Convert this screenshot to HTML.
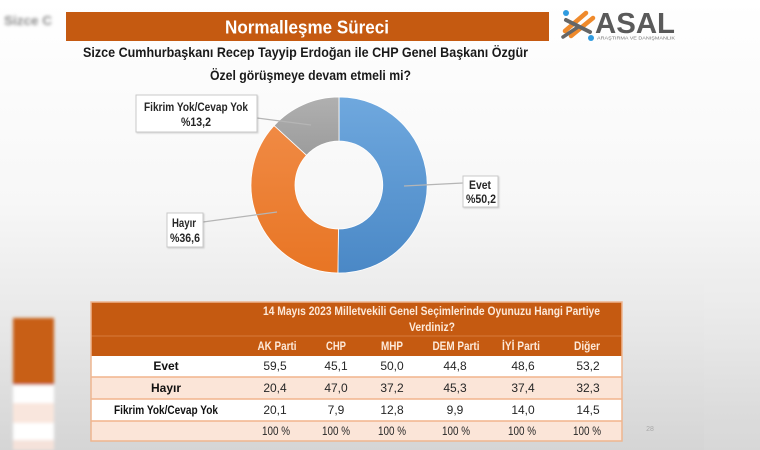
<!DOCTYPE html>
<html><head><meta charset="utf-8">
<style>
html,body{margin:0;padding:0;width:760px;height:450px;overflow:hidden;background:#fff;}
svg{display:block;font-family:"Liberation Sans",Arial,sans-serif;}
</style></head>
<body>
<svg width="760" height="450" viewBox="0 0 760 450" xmlns="http://www.w3.org/2000/svg">
<defs>
  <linearGradient id="bg" x1="0" y1="0" x2="0" y2="1">
    <stop offset="0" stop-color="#ffffff"/>
    <stop offset="0.45" stop-color="#f7f7f7"/>
    <stop offset="0.75" stop-color="#e6e6e6"/>
    <stop offset="1" stop-color="#d5d5d5"/>
  </linearGradient>
  <linearGradient id="blue" x1="0" y1="0" x2="0" y2="1">
    <stop offset="0" stop-color="#6fa8de"/>
    <stop offset="1" stop-color="#4a88c6"/>
  </linearGradient>
  <linearGradient id="orange" x1="0" y1="0" x2="0" y2="1">
    <stop offset="0" stop-color="#f08a44"/>
    <stop offset="1" stop-color="#e87524"/>
  </linearGradient>
  <linearGradient id="gray" x1="0" y1="0" x2="0" y2="1">
    <stop offset="0" stop-color="#b0b0b0"/>
    <stop offset="1" stop-color="#9c9c9c"/>
  </linearGradient>
  <filter id="blur" x="-20%" y="-20%" width="140%" height="140%"><feGaussianBlur stdDeviation="1.6"/></filter>
  <filter id="shadow" x="-10%" y="-10%" width="130%" height="140%"><feDropShadow dx="1" dy="1" stdDeviation="0.8" flood-color="#000" flood-opacity="0.15"/></filter>
</defs>

<!-- background -->
<rect x="0" y="0" width="760" height="450" fill="url(#bg)"/>
<rect x="704" y="0" width="56" height="450" fill="#ffffff" opacity="0.05"/>

<!-- blurred left remnants -->
<g filter="url(#blur)">
  <text x="4" y="25" font-size="13" font-weight="bold" fill="#8a8a8a" textLength="48" lengthAdjust="spacingAndGlyphs">Sizce C</text>
  <rect x="13" y="318" width="41" height="67" fill="#c85e14"/>
  <rect x="13" y="385" width="41" height="18" fill="#ffffff"/>
  <rect x="13" y="403" width="41" height="20" fill="#f9e6dd"/>
  <rect x="13" y="423" width="41" height="17" fill="#ffffff"/>
  <rect x="13" y="440" width="41" height="10" fill="#f5e2da"/>
</g>

<!-- title bar -->
<rect x="66" y="12" width="483" height="29" fill="#c55a11"/>
<text x="307" y="33.5" font-size="18" font-weight="bold" fill="#ffffff" text-anchor="middle" textLength="164" lengthAdjust="spacingAndGlyphs">Normalleşme Süreci</text>

<!-- logo -->
<g>
  <line x1="565" y1="31" x2="586" y2="13" stroke="#ef8a2c" stroke-width="4.5" stroke-linecap="round"/>
  <line x1="571" y1="36" x2="593" y2="18" stroke="#ef8a2c" stroke-width="4.5" stroke-linecap="round"/>
  <line x1="566" y1="20" x2="590" y2="32" stroke="#666" stroke-width="4" stroke-linecap="round"/>
  <line x1="563" y1="37" x2="578" y2="27" stroke="#666" stroke-width="3.5" stroke-linecap="round"/>
  <circle cx="566" cy="13" r="3" fill="#2f9be0"/>
  <circle cx="591" cy="38" r="3" fill="#2f9be0"/>
  <text x="595" y="33" font-size="29" font-weight="bold" fill="#5a5a5a" textLength="80" lengthAdjust="spacingAndGlyphs">ASAL</text>
  <text x="597" y="39.5" font-size="4.6" fill="#777" textLength="78" lengthAdjust="spacingAndGlyphs">ARAŞTIRMA VE DANIŞMANLIK</text>
</g>

<!-- question -->
<text x="305.5" y="57" font-size="14" font-weight="bold" fill="#1a1a1a" text-anchor="middle" textLength="445" lengthAdjust="spacingAndGlyphs">Sizce Cumhurbaşkanı Recep Tayyip Erdoğan ile CHP Genel Başkanı Özgür</text>
<text x="310.5" y="80" font-size="14" font-weight="bold" fill="#1a1a1a" text-anchor="middle" textLength="201" lengthAdjust="spacingAndGlyphs">Özel görüşmeye devam etmeli mi?</text>

<!-- donut -->
<g stroke="#ffffff" stroke-width="0.8">
  <path d="M339,97 A88,88 0 1 1 337.89,272.99 L338.45,229 A44,44 0 1 0 339,141 Z" fill="url(#blue)"/>
  <path d="M337.89,272.99 A88,88 0 0 1 274.09,125.57 L306.55,155.29 A44,44 0 0 0 338.45,229 Z" fill="url(#orange)"/>
  <path d="M274.09,125.57 A88,88 0 0 1 339,97 L339,141 A44,44 0 0 0 306.55,155.29 Z" fill="url(#gray)"/>
</g>

<!-- leader lines -->
<g stroke="#b5b5b5" stroke-width="1.2" fill="none">
  <line x1="257" y1="118" x2="311" y2="125"/>
  <line x1="404" y1="186" x2="463" y2="183"/>
  <line x1="203" y1="222" x2="277" y2="212"/>
</g>

<!-- label boxes -->
<g filter="url(#shadow)" fill="#ffffff" stroke="#c9c9c9" stroke-width="1">
  <rect x="136" y="95" width="121" height="37"/>
  <rect x="463" y="176" width="35" height="31"/>
  <rect x="167" y="213" width="36" height="34"/>
</g>
<g font-size="11.5" font-weight="bold" fill="#262626" text-anchor="middle">
  <text x="196" y="111" textLength="104" lengthAdjust="spacingAndGlyphs">Fikrim Yok/Cevap Yok</text>
  <text x="196" y="126" textLength="30" lengthAdjust="spacingAndGlyphs">%13,2</text>
  <text x="480" y="189" textLength="22" lengthAdjust="spacingAndGlyphs">Evet</text>
  <text x="481" y="203" textLength="30" lengthAdjust="spacingAndGlyphs">%50,2</text>
  <text x="184" y="227" textLength="24" lengthAdjust="spacingAndGlyphs">Hayır</text>
  <text x="185" y="242" textLength="30" lengthAdjust="spacingAndGlyphs">%36,6</text>
</g>

<!-- table -->
<g>
  <rect x="91" y="302" width="531" height="54" fill="#c55a11"/>
  <line x1="91" y1="336" x2="622" y2="336" stroke="#d77a3a" stroke-width="1"/>
  <rect x="91" y="356" width="531" height="21" fill="#ffffff"/>
  <rect x="91" y="377" width="531" height="22" fill="#fbe5d8"/>
  <rect x="91" y="399" width="531" height="22" fill="#ffffff"/>
  <rect x="91" y="421" width="531" height="20" fill="#fbe5d8"/>
  <g stroke="#f1b48c" stroke-width="1.5">
    <line x1="91" y1="377" x2="622" y2="377"/>
    <line x1="91" y1="399" x2="622" y2="399"/>
    <line x1="91" y1="421" x2="622" y2="421"/>
  </g>
  <rect x="91" y="302" width="531" height="139" fill="none" stroke="#eeb58f" stroke-width="1.5"/>

  <g font-size="11.5" font-weight="bold" fill="#fde9d9" text-anchor="middle">
    <text x="431.5" y="315" textLength="337" lengthAdjust="spacingAndGlyphs">14 Mayıs 2023 Milletvekili Genel Seçimlerinde Oyunuzu Hangi Partiye</text>
    <text x="432" y="331" textLength="46" lengthAdjust="spacingAndGlyphs">Verdiniz?</text>
    <text x="277" y="350" textLength="39" lengthAdjust="spacingAndGlyphs">AK Parti</text>
    <text x="336" y="350" textLength="20" lengthAdjust="spacingAndGlyphs">CHP</text>
    <text x="392" y="350" textLength="22" lengthAdjust="spacingAndGlyphs">MHP</text>
    <text x="456" y="350" textLength="47" lengthAdjust="spacingAndGlyphs">DEM Parti</text>
    <text x="521" y="350" textLength="38" lengthAdjust="spacingAndGlyphs">İYİ Parti</text>
    <text x="587" y="350" textLength="26" lengthAdjust="spacingAndGlyphs">Diğer</text>
  </g>

  <g font-size="12" font-weight="bold" fill="#111" text-anchor="middle">
    <text x="166" y="370">Evet</text>
    <text x="166" y="392">Hayır</text>
    <text x="166" y="414" textLength="104" lengthAdjust="spacingAndGlyphs">Fikrim Yok/Cevap Yok</text>
  </g>

  <g font-size="12" fill="#262626" text-anchor="middle">
    <text x="275" y="370">59,5</text>
    <text x="336" y="370">45,1</text>
    <text x="392" y="370">50,0</text>
    <text x="455" y="370">44,8</text>
    <text x="523" y="370">48,6</text>
    <text x="588" y="370">53,2</text>

    <text x="275" y="392">20,4</text>
    <text x="336" y="392">47,0</text>
    <text x="392" y="392">37,2</text>
    <text x="455" y="392">45,3</text>
    <text x="523" y="392">37,4</text>
    <text x="588" y="392">32,3</text>

    <text x="275" y="414">20,1</text>
    <text x="336" y="414">7,9</text>
    <text x="392" y="414">12,8</text>
    <text x="455" y="414">9,9</text>
    <text x="523" y="414">14,0</text>
    <text x="588" y="414">14,5</text>

    <text x="276" y="435" textLength="28" lengthAdjust="spacingAndGlyphs">100 %</text>
    <text x="336" y="435" textLength="28" lengthAdjust="spacingAndGlyphs">100 %</text>
    <text x="392" y="435" textLength="28" lengthAdjust="spacingAndGlyphs">100 %</text>
    <text x="456" y="435" textLength="28" lengthAdjust="spacingAndGlyphs">100 %</text>
    <text x="522" y="435" textLength="28" lengthAdjust="spacingAndGlyphs">100 %</text>
    <text x="587" y="435" textLength="28" lengthAdjust="spacingAndGlyphs">100 %</text>
  </g>
</g>

<text x="650" y="431" font-size="7" fill="#a8a8a8" text-anchor="middle">28</text>
</svg>
</body></html>
